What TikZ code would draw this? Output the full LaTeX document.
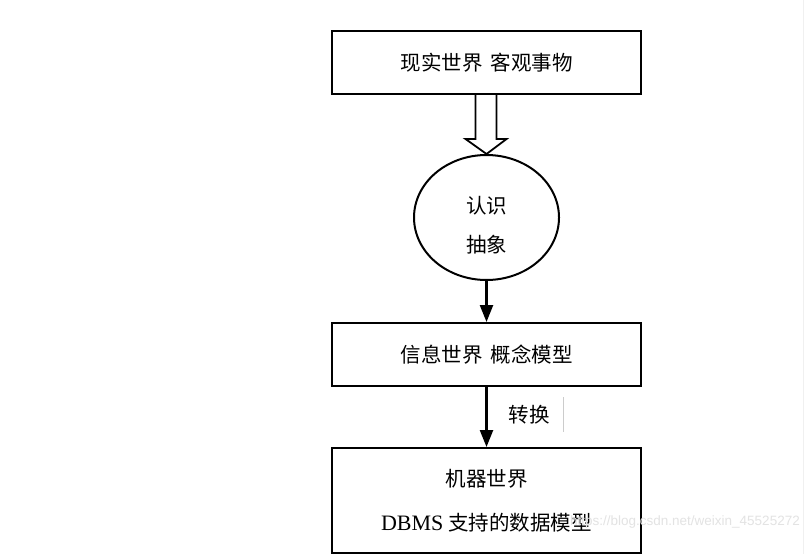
\documentclass[tikz,border=0pt]{standalone}
\usepackage{fontspec}
\setmainfont{Liberation Serif}
\newfontfamily\cjk{Noto Sans CJK SC}
\newfontfamily\wmfont{Liberation Sans}
\usetikzlibrary{arrows.meta,shapes.geometric,calc}
\begin{document}
\begin{tikzpicture}[x=1pt,y=-1pt,
  box/.style={draw, line width=2pt, minimum width=309pt, inner sep=0pt, align=center},
  txt/.style={font=\fontsize{20.5}{40}\selectfont\cjk},
  conn/.style={line width=2.4pt, -{Triangle[length=17pt,width=13pt]}}]
\useasboundingbox[fill=white] (0,0) rectangle (808,554);
\node[box, minimum height=63pt, txt] (b1) at (486.5,62.5) {现实世界\hspace{8pt}客观事物};
\node[draw, line width=2pt, ellipse, minimum width=145pt, minimum height=125pt, inner sep=0pt, txt] (e) at (486.5,217.5) {};
\node[txt, inner sep=0pt] (et) at (486.5,225) {\begin{tabular}{@{}c@{}}认识\\[-1pt]抽象\end{tabular}};
\node[box, minimum height=63pt, txt] (b2) at (486.5,354.5) {信息世界\hspace{8pt}概念模型};
\node[box, minimum height=105pt, align=center, font=\fontsize{20.5}{44}\selectfont] (b3) at (486.5,500.5) {{\cjk 机器世界}\\{\fontsize{22}{44}\selectfont DBMS} {\cjk 支持的数据模型}};
% fat arrow
\draw[line width=1.8pt, line join=miter, fill=white]
  ($(b1.south)+(-11,0)$) -- ($(b1.south)+(-11,44)$) -- ($(b1.south)+(-21,44)$) -- (e.north)
  -- ($(b1.south)+(20,44)$) -- ($(b1.south)+(10,44)$) -- ($(b1.south)+(10,0)$);
\draw[conn] (e.south) -- (b2.north);
\draw[conn] (b2.south) -- (b3.north);
\node[txt, anchor=center] (lab) at (529,415) {转换};
\coordinate (l1) at (563,397);
\coordinate (l2) at (563,432);
\draw[gray!40, line width=0.8pt] (l1) -- (l2);
\coordinate (r1) at (803,0);
\coordinate (r2) at (803,554);
\draw[gray!12, line width=0.8pt] (r1) -- (r2);
\node[font=\fontsize{13.5}{16}\selectfont\wmfont, text=gray!22, anchor=east, inner sep=0pt] (wm) at (800,522) {https://blog.csdn.net/weixin\_45525272};
\end{tikzpicture}
\end{document}
